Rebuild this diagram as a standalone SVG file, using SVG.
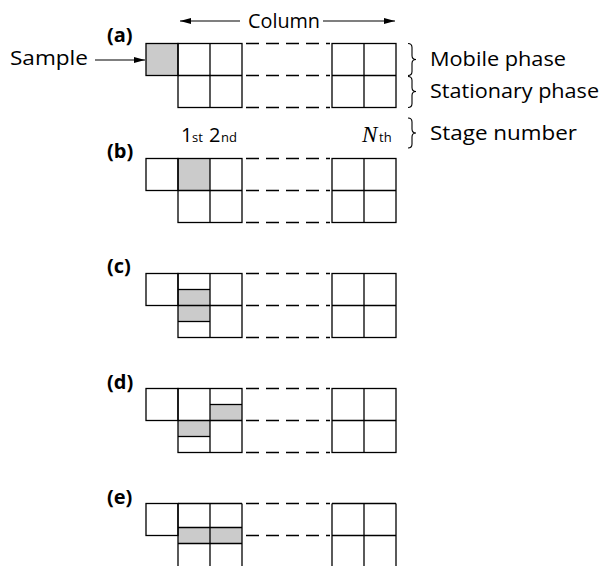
<svg xmlns="http://www.w3.org/2000/svg" width="603" height="566" viewBox="0 0 603 566">
<style>
.bg{fill:#ffffff}
.ln{stroke:#000;stroke-width:1.3;fill:none}
.box{stroke:#000;stroke-width:1.3;fill:none}
.sh{fill:#cbcbcb;stroke:none}
.dash{stroke:#000;stroke-width:1.3;stroke-dasharray:13 7;fill:none}
.t{font-family:"Open Sans","DejaVu Sans",sans-serif;font-size:20px;fill:#000}
.lab{font-family:"Open Sans","DejaVu Sans",sans-serif;font-weight:bold;font-size:20px;fill:#000}
.big{font-family:"Open Sans","DejaVu Sans",sans-serif;font-size:20px;fill:#000}
.sm{font-family:"Open Sans","DejaVu Sans",sans-serif;font-size:13px;fill:#000}
.nit{font-family:"Liberation Serif",serif;font-style:italic;font-size:23px;fill:#000}
.arr{stroke:#000;stroke-width:1.2;fill:none;marker-end:url(#ah)}
.brace{stroke:#000;stroke-width:1.1;fill:none}
</style>
<defs>
<marker id="ah" markerUnits="userSpaceOnUse" markerWidth="11" markerHeight="6" refX="11" refY="3" orient="auto">
<path d="M0,0 L11,3 L0,6 z" fill="#000"/>
</marker>
</defs>
<rect class="bg" x="0" y="0" width="603" height="566"/>

<g id="labels">
<text class="t" x="10" y="65" textLength="78" lengthAdjust="spacingAndGlyphs">Sample</text>
<text class="t" x="248" y="28" textLength="72" lengthAdjust="spacingAndGlyphs">Column</text>
<text class="t" x="430" y="66" textLength="136" lengthAdjust="spacingAndGlyphs">Mobile phase</text>
<text class="t" x="430" y="98" textLength="169" lengthAdjust="spacingAndGlyphs">Stationary phase</text>
<text class="t" x="430" y="140" textLength="147" lengthAdjust="spacingAndGlyphs">Stage number</text>
<text class="big" x="181" y="142">1</text><text class="sm" x="192" y="142">st</text>
<text class="big" x="209" y="142">2</text><text class="sm" x="221" y="142">nd</text>
<text class="nit" x="362" y="142">N</text><text class="sm" x="379" y="142">th</text>
<path class="brace" d="M408,43.5 Q412,43.5 412,47.5 L412,55.5 Q412,59.5 416,59.5 Q412,59.5 412,63.5 L412,71.5 Q412,75.5 408,75.5"/>
<path class="brace" d="M408,76.5 Q412,76.5 412,80.5 L412,87.5 Q412,91.5 416,91.5 Q412,91.5 412,95.5 L412,103.5 Q412,107.5 408,107.5"/>
<path class="brace" d="M408,118 Q412,118 412,122 L412,129 Q412,133 416,133 Q412,133 412,137 L412,144 Q412,148 408,148"/>
</g>

<g id="connectors">
<line class="arr" x1="95" y1="60" x2="145" y2="60"/>
<line class="arr" x1="240" y1="21" x2="180" y2="21"/>
<line class="arr" x1="323" y1="21" x2="395" y2="21"/>
</g>

<g id="stage-a">
<text class="lab" x="107" y="42">(a)</text>
<rect class="sh" x="146" y="43.5" width="32" height="32"/>
<rect class="box" x="146" y="43.5" width="32" height="32"/>
<rect class="box" x="178" y="43.5" width="64" height="64"/>
<line class="ln" x1="210" y1="43.5" x2="210" y2="107.5"/>
<line class="ln" x1="178" y1="75.5" x2="242" y2="75.5"/>
<line class="dash" x1="246" y1="43.5" x2="330" y2="43.5"/>
<line class="dash" x1="246" y1="75.5" x2="330" y2="75.5"/>
<line class="dash" x1="246" y1="107.5" x2="330" y2="107.5"/>
<rect class="box" x="332" y="43.5" width="64" height="64"/>
<line class="ln" x1="364" y1="43.5" x2="364" y2="107.5"/>
<line class="ln" x1="332" y1="75.5" x2="396" y2="75.5"/>
</g>

<g id="stage-b">
<text class="lab" x="107" y="158">(b)</text>
<rect class="sh" x="178" y="158.5" width="32" height="32"/>
<rect class="box" x="146" y="158.5" width="32" height="32"/>
<rect class="box" x="178" y="158.5" width="64" height="64"/>
<line class="ln" x1="210" y1="158.5" x2="210" y2="222.5"/>
<line class="ln" x1="178" y1="190.5" x2="242" y2="190.5"/>
<line class="dash" x1="246" y1="158.5" x2="330" y2="158.5"/>
<line class="dash" x1="246" y1="190.5" x2="330" y2="190.5"/>
<line class="dash" x1="246" y1="222.5" x2="330" y2="222.5"/>
<rect class="box" x="332" y="158.5" width="64" height="64"/>
<line class="ln" x1="364" y1="158.5" x2="364" y2="222.5"/>
<line class="ln" x1="332" y1="190.5" x2="396" y2="190.5"/>
</g>

<g id="stage-c">
<text class="lab" x="107" y="273">(c)</text>
<rect class="sh" x="178" y="289.5" width="32" height="32"/>
<rect class="box" x="146" y="273.5" width="32" height="32"/>
<rect class="box" x="178" y="273.5" width="64" height="64"/>
<line class="ln" x1="210" y1="273.5" x2="210" y2="337.5"/>
<line class="ln" x1="178" y1="305.5" x2="242" y2="305.5"/>
<line class="ln" x1="178" y1="289.5" x2="210" y2="289.5"/>
<line class="ln" x1="178" y1="321.5" x2="210" y2="321.5"/>
<line class="dash" x1="246" y1="273.5" x2="330" y2="273.5"/>
<line class="dash" x1="246" y1="305.5" x2="330" y2="305.5"/>
<line class="dash" x1="246" y1="337.5" x2="330" y2="337.5"/>
<rect class="box" x="332" y="273.5" width="64" height="64"/>
<line class="ln" x1="364" y1="273.5" x2="364" y2="337.5"/>
<line class="ln" x1="332" y1="305.5" x2="396" y2="305.5"/>
</g>

<g id="stage-d">
<text class="lab" x="107" y="389">(d)</text>
<rect class="sh" x="210" y="404.5" width="32" height="16"/>
<rect class="sh" x="178" y="420.5" width="32" height="16"/>
<rect class="box" x="146" y="388.5" width="32" height="32"/>
<rect class="box" x="178" y="388.5" width="64" height="64"/>
<line class="ln" x1="210" y1="388.5" x2="210" y2="452.5"/>
<line class="ln" x1="178" y1="420.5" x2="242" y2="420.5"/>
<line class="ln" x1="210" y1="404.5" x2="242" y2="404.5"/>
<line class="ln" x1="178" y1="436.5" x2="210" y2="436.5"/>
<line class="dash" x1="246" y1="388.5" x2="330" y2="388.5"/>
<line class="dash" x1="246" y1="420.5" x2="330" y2="420.5"/>
<line class="dash" x1="246" y1="452.5" x2="330" y2="452.5"/>
<rect class="box" x="332" y="388.5" width="64" height="64"/>
<line class="ln" x1="364" y1="388.5" x2="364" y2="452.5"/>
<line class="ln" x1="332" y1="420.5" x2="396" y2="420.5"/>
</g>

<g id="stage-e">
<text class="lab" x="107" y="504">(e)</text>
<rect class="sh" x="178" y="527.5" width="64" height="16"/>
<rect class="box" x="146" y="503.5" width="32" height="32"/>
<line class="ln" x1="178" y1="503.5" x2="242" y2="503.5"/>
<line class="ln" x1="178" y1="503.5" x2="178" y2="570"/>
<line class="ln" x1="210" y1="503.5" x2="210" y2="570"/>
<line class="ln" x1="242" y1="503.5" x2="242" y2="570"/>
<line class="ln" x1="178" y1="527.5" x2="242" y2="527.5"/>
<line class="ln" x1="178" y1="543.5" x2="242" y2="543.5"/>
<line class="dash" x1="246" y1="503.5" x2="330" y2="503.5"/>
<line class="dash" x1="246" y1="535.5" x2="330" y2="535.5"/>
<line class="ln" x1="332" y1="503.5" x2="396" y2="503.5"/>
<line class="ln" x1="332" y1="535.5" x2="396" y2="535.5"/>
<line class="ln" x1="332" y1="503.5" x2="332" y2="570"/>
<line class="ln" x1="364" y1="503.5" x2="364" y2="570"/>
<line class="ln" x1="396" y1="503.5" x2="396" y2="570"/>
</g>
</svg>
